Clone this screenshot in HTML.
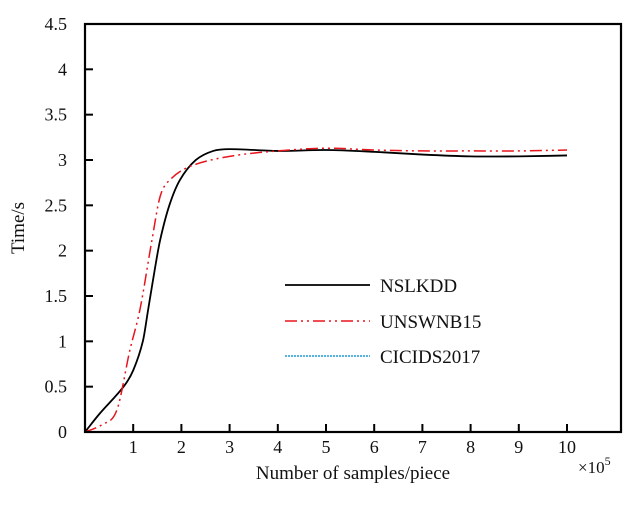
<!DOCTYPE html>
<html><head><meta charset="utf-8"><style>
body{margin:0;background:#fff;}
svg text{font-family:"Liberation Serif",serif;fill:#111;}
</style></head><body>
<svg id="chart" width="644" height="501" viewBox="0 0 644 501" xmlns="http://www.w3.org/2000/svg">
<rect x="0" y="0" width="644" height="501" fill="#fff"/>
<g id="series"></g>
<rect x="85" y="24" width="536" height="408" fill="none" stroke="#000" stroke-width="2.2"/>
<g id="axes"></g>
<text x="24" y="228" font-size="19" text-anchor="middle" transform="rotate(-90 24 228)">Time/s</text>
<text x="353" y="479" font-size="19" text-anchor="middle">Number of samples/piece</text>
<text x="578" y="473" font-size="17">×10<tspan dy="-8" font-size="12">5</tspan></text>
<g>
<line x1="285" y1="285" x2="370" y2="285" stroke="#000" stroke-width="1.8"/>
<text x="380" y="292" font-size="19">NSLKDD</text>
<line x1="285" y1="321" x2="370" y2="321" stroke="#e8141c" stroke-width="1.6" stroke-dasharray="12,4,2,4,2,4"/>
<text x="380" y="328" font-size="19">UNSWNB15</text>
<line x1="285" y1="356" x2="370" y2="356" stroke="#1b9ad6" stroke-width="1.4" stroke-dasharray="2,1"/>
<text x="380" y="363" font-size="19">CICIDS2017</text>
</g>
</svg>
<script>
const nslX=[0,0.3,0.8,1.0,1.2,1.31,1.45,1.56,1.75,1.97,2.3,2.66,3,4,5,6,7,8,9,10];
const nslkdd=[0,0.2,0.5,0.68,1.0,1.35,1.8,2.12,2.5,2.78,3.0,3.1,3.12,3.1,3.11,3.09,3.06,3.04,3.04,3.05];
const unswX=[0,0.35,0.66,0.93,1.14,1.39,1.56,1.76,2.18,3,4,5,6,7,8,9,10];
const unsw=[0,0.08,0.24,0.9,1.35,2.12,2.6,2.78,2.93,3.04,3.1,3.13,3.11,3.1,3.1,3.1,3.11];
const cicids=[0,0.2,0.5,0.68,1.0,1.35,1.8,2.12,2.5,2.78,3.0,3.1,3.12,3.1,3.11,3.09,3.06,3.04,3.04,3.05];
const xTicks=[1,2,3,4,5,6,7,8,9,10];
const yTicks=[0,0.5,1,1.5,2,2.5,3,3.5,4,4.5];
const yTickLabels=["0","0.5","1","1.5","2","2.5","3","3.5","4","4.5"];
const NS="http://www.w3.org/2000/svg";
const X=v=>85+v*48.2, Y=v=>432-v*90.67;
const axes=document.getElementById('axes'), ser=document.getElementById('series');
function mk(t,a,p){const e=document.createElementNS(NS,t);for(const k in a)e.setAttribute(k,a[k]);p.appendChild(e);return e;}
xTicks.forEach(v=>{
 const l=mk('line',{x1:X(v),x2:X(v),y1:432,y2:424,stroke:'#000','stroke-width':2},axes);
 
 
 const t=mk('text',{x:X(v),y:453,'font-size':18,'text-anchor':'middle'},axes);t.textContent=v;
 
 
});
yTicks.forEach((v,i)=>{
 if(v>0&&v<4.5){const l=mk('line',{x1:85,x2:93,y1:Y(v),y2:Y(v),stroke:'#000','stroke-width':2},axes);
 
 }
 const t=mk('text',{x:67,y:Y(v)+6,'font-size':18,'text-anchor':'end'},axes);t.textContent=yTickLabels[i];
 
 
});
function path(xs,ys){const p=xs.map((x,i)=>[X(x),Y(ys[i])]);let d='M'+p[0][0]+','+p[0][1];
 for(let i=0;i<p.length-1;i++){const p0=p[i-1]||p[i],p1=p[i],p2=p[i+1],p3=p[i+2]||p2;
 const h=p2[0]-p1[0];
 const s1=(p2[1]-p0[1])/((p2[0]-p0[0])||1), s2=(p3[1]-p1[1])/((p3[0]-p1[0])||1);
 d+=' C'+(p1[0]+h/3)+','+(p1[1]+s1*h/3)+' '+(p2[0]-h/3)+','+(p2[1]-s2*h/3)+' '+p2[0]+','+p2[1];}
 return d;}
const c=mk('path',{d:path(nslX,cicids),fill:'none',stroke:'#1b9ad6','stroke-width':1.2,'stroke-dasharray':'2,1'},ser);


const n=mk('path',{d:path(nslX,nslkdd),fill:'none',stroke:'#000','stroke-width':1.8},ser);


const u=mk('path',{d:path(unswX,unsw),fill:'none',stroke:'#e8141c','stroke-width':1.5,'stroke-dasharray':'12,4,2,4,2,4'},ser);


</script>
</body></html>
